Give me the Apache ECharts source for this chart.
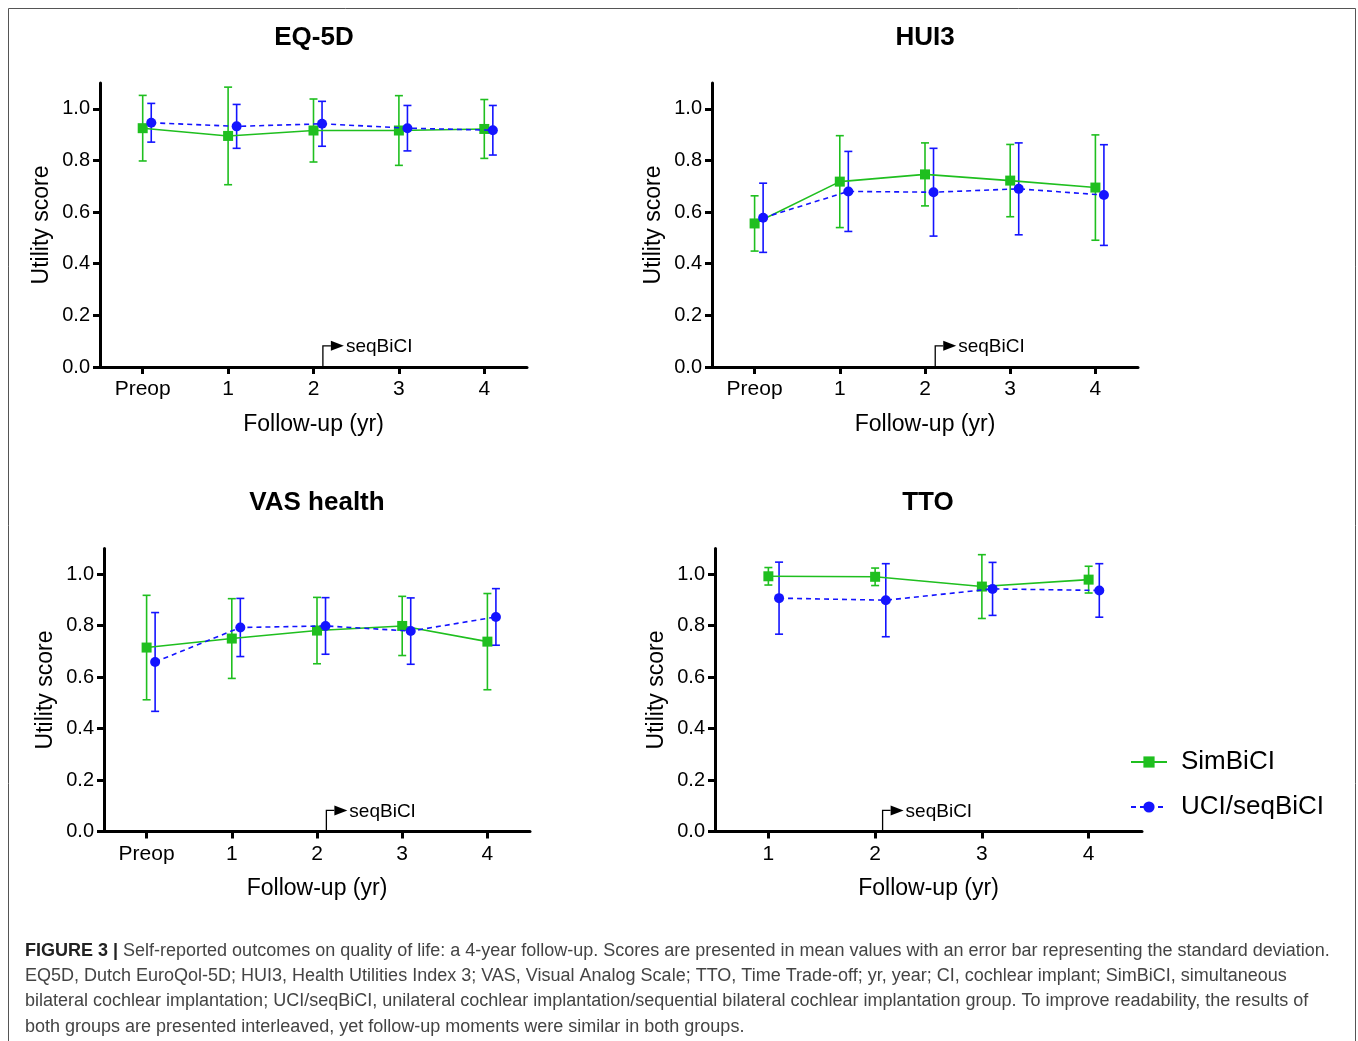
<!DOCTYPE html>
<html>
<head>
<meta charset="utf-8">
<script src="https://cdn.jsdelivr.net/npm/echarts@6/dist/echarts.min.js"></script>
<style>html,body{margin:0;padding:0;background:#fff;}#c{width:1358px;height:1041px;}</style>
</head>
<body>
<div id="c"></div>
<script>
// ---- data ----
const panelTitles = ['EQ-5D', 'HUI3', 'VAS health', 'TTO'];
const followLabels = ['Preop', '1', '2', '3', '4'];
const followPos = [0, 1, 2, 3, 4];
const ttoLabels = ['1', '2', '3', '4'];
const ttoPos = [1, 2, 3, 4];
const yTicks = [0, 0.2, 0.4, 0.6, 0.8, 1.0];
const groupNames = ['SimBiCI', 'UCI/seqBiCI'];

const eq5dSimMean = [0.925, 0.895, 0.916, 0.916, 0.922];
const eq5dSimSD   = [0.127, 0.189, 0.122, 0.135, 0.114];
const eq5dSeqMean = [0.946, 0.932, 0.942, 0.925, 0.917];
const eq5dSeqSD   = [0.075, 0.085, 0.087, 0.088, 0.096];

const hui3SimMean = [0.556, 0.718, 0.746, 0.722, 0.695];
const hui3SimSD   = [0.107, 0.178, 0.122, 0.140, 0.204];
const hui3SeqMean = [0.578, 0.680, 0.677, 0.690, 0.666];
const hui3SeqSD   = [0.134, 0.155, 0.170, 0.178, 0.195];

const vasSimMean = [0.715, 0.750, 0.781, 0.799, 0.738];
const vasSimSD   = [0.203, 0.155, 0.129, 0.115, 0.187];
const vasSeqMean = [0.659, 0.793, 0.799, 0.779, 0.834];
const vasSeqSD   = [0.192, 0.113, 0.110, 0.129, 0.110];

const ttoSimMean = [0.992, 0.990, 0.952, 0.979];
const ttoSimSD   = [0.034, 0.034, 0.124, 0.052];
const ttoSeqMean = [0.907, 0.899, 0.943, 0.937];
const ttoSeqSD   = [0.140, 0.142, 0.103, 0.104];

const seqOffset = 0.1;               // interleave offset of the UCI/seqBiCI group
const seqArrowX = [2.11, 2.12, 2.11, 2.07];
const seqArrowY = 0.082;

const captionLines = [
  'Self-reported outcomes on quality of life: a 4-year follow-up. Scores are presented in mean values with an error bar representing the standard deviation.',
  'EQ5D, Dutch EuroQol-5D; HUI3, Health Utilities Index 3; VAS, Visual Analog Scale; TTO, Time Trade-off; yr, year; CI, cochlear implant; SimBiCI, simultaneous',
  'bilateral cochlear implantation; UCI/seqBiCI, unilateral cochlear implantation/sequential bilateral cochlear implantation group. To improve readability, the results of',
  'both groups are presented interleaved, yet follow-up moments were similar in both groups.'
];

// ---- layout / style ----
const FONT = "'Liberation Sans', Arial, sans-serif";
const GREEN = '#1fbf1f';
const BLUE = '#1414ff';
const grids = [
  {left: 100, top: 83, width: 427, height: 284},
  {left: 712, top: 83, width: 426, height: 284},
  {left: 104, top: 548.5, width: 426, height: 283},
  {left: 715, top: 548.5, width: 427, height: 283}
];
const panels = [
  {pos: followPos, labels: followLabels, sim: [eq5dSimMean, eq5dSimSD], seq: [eq5dSeqMean, eq5dSeqSD], xmin: -0.5, xmax: 4.5},
  {pos: followPos, labels: followLabels, sim: [hui3SimMean, hui3SimSD], seq: [hui3SeqMean, hui3SeqSD], xmin: -0.5, xmax: 4.5},
  {pos: followPos, labels: followLabels, sim: [vasSimMean, vasSimSD], seq: [vasSeqMean, vasSeqSD], xmin: -0.5, xmax: 4.5},
  {pos: ttoPos, labels: ttoLabels, sim: [ttoSimMean, ttoSimSD], seq: [ttoSeqMean, ttoSeqSD], xmin: 0.5, xmax: 4.5}
];

function errRender(color) {
  return function (params, api) {
    const x = api.value(0), lo = api.value(1), hi = api.value(2);
    const pLo = api.coord([x, lo]);
    const pHi = api.coord([x, hi]);
    const cap = 4;
    const st = {stroke: color, lineWidth: 1.6};
    return {
      type: 'group',
      children: [
        {type: 'line', shape: {x1: pLo[0], y1: pLo[1], x2: pHi[0], y2: pHi[1]}, style: st},
        {type: 'line', shape: {x1: pLo[0] - cap, y1: pLo[1], x2: pLo[0] + cap, y2: pLo[1]}, style: st},
        {type: 'line', shape: {x1: pHi[0] - cap, y1: pHi[1], x2: pHi[0] + cap, y2: pHi[1]}, style: st}
      ]
    };
  };
}

function arrowRender(params, api) {
  const x = api.value(0), y = api.value(1);
  const p0 = api.coord([x, 0]);
  const p = api.coord([x, y]);
  return {
    type: 'group',
    children: [
      {type: 'polyline', shape: {points: [[p0[0], p0[1]], [p[0], p[1]], [p[0] + 8, p[1]]]}, style: {stroke: '#000', lineWidth: 1.3, fill: null}},
      {type: 'polygon', shape: {points: [[p[0] + 8, p[1] - 5], [p[0] + 21, p[1]], [p[0] + 8, p[1] + 5]]}, style: {fill: '#000'}},
      {type: 'text', style: {text: 'seqBiCI', x: p[0] + 23, y: p[1] + 1, verticalAlign: 'middle', align: 'left', font: '19px ' + FONT, fill: '#000'}}
    ]
  };
}

const xAxes = [], yAxes = [], series = [];
panels.forEach((pn, i) => {
  xAxes.push({
    type: 'value', gridIndex: i, min: pn.xmin, max: pn.xmax,
    name: 'Follow-up (yr)', nameLocation: 'middle', nameGap: 46,
    nameTextStyle: {fontSize: 23, color: '#000', fontFamily: FONT},
    axisLine: {show: true, onZero: false, lineStyle: {color: '#000', width: 3}},
    axisTick: {show: true, length: 7, lineStyle: {color: '#000', width: 3}, customValues: pn.pos},
    axisLabel: {show: true, margin: 12, fontSize: 21, color: '#000', fontFamily: FONT,
      customValues: pn.pos,
      formatter: v => pn.labels[pn.pos.indexOf(Math.round(v))]},
    splitLine: {show: false}
  });
  yAxes.push({
    type: 'value', gridIndex: i, min: 0, max: 1.1,
    name: 'Utility score', nameLocation: 'middle', nameGap: 47,
    nameTextStyle: {fontSize: 23, color: '#000', fontFamily: FONT},
    axisLine: {show: true, onZero: false, lineStyle: {color: '#000', width: 3}},
    axisTick: {show: true, length: 7, lineStyle: {color: '#000', width: 3}, customValues: yTicks},
    axisLabel: {show: true, margin: 10, fontSize: 20, color: '#000', fontFamily: FONT,
      customValues: yTicks, formatter: v => v.toFixed(1)},
    splitLine: {show: false}
  });
  const simPts = pn.pos.map((x, k) => [x, pn.sim[0][k]]);
  const seqPts = pn.pos.map((x, k) => [x + seqOffset, pn.seq[0][k]]);
  const simErr = pn.pos.map((x, k) => [x, pn.sim[0][k] - pn.sim[1][k], pn.sim[0][k] + pn.sim[1][k]]);
  const seqErr = pn.pos.map((x, k) => [x + seqOffset, pn.seq[0][k] - pn.seq[1][k], pn.seq[0][k] + pn.seq[1][k]]);
  series.push({
    type: 'custom', xAxisIndex: i, yAxisIndex: i, renderItem: errRender(GREEN),
    data: simErr, encode: {x: 0, y: [1, 2]}, z: 2, silent: true
  });
  series.push({
    type: 'custom', xAxisIndex: i, yAxisIndex: i, renderItem: errRender(BLUE),
    data: seqErr, encode: {x: 0, y: [1, 2]}, z: 2, silent: true
  });
  series.push({
    name: groupNames[0], type: 'line', xAxisIndex: i, yAxisIndex: i, data: simPts,
    symbol: 'rect', symbolSize: 10, showAllSymbol: true,
    lineStyle: {color: GREEN, width: 1.6}, itemStyle: {color: GREEN}, z: 3
  });
  series.push({
    name: groupNames[1], type: 'line', xAxisIndex: i, yAxisIndex: i, data: seqPts,
    symbol: 'circle', symbolSize: 10, showAllSymbol: true,
    lineStyle: {color: BLUE, width: 1.6, type: [5, 4]}, itemStyle: {color: BLUE}, z: 4
  });
  series.push({
    type: 'custom', xAxisIndex: i, yAxisIndex: i, renderItem: arrowRender,
    data: [[seqArrowX[i], seqArrowY]], encode: {x: 0, y: 1}, z: 5, silent: true
  });
});

const titleCenters = [[314, 38], [925, 38], [317, 503], [928, 503]];
const graphics = [
  {type: 'rect', shape: {x: 8.5, y: 8.5, width: 1347, height: 1040}, style: {fill: null, stroke: '#555', lineWidth: 1}, silent: true}
];
panelTitles.forEach((t, i) => {
  graphics.push({type: 'text', x: titleCenters[i][0], y: titleCenters[i][1],
    style: {text: t, align: 'center', verticalAlign: 'middle', font: 'bold 26px ' + FONT, fill: '#000'}});
});
const capY = [951, 976, 1001, 1027];
captionLines.forEach((line, i) => {
  graphics.push({type: 'text', x: 25, y: capY[i],
    style: {
      text: i === 0 ? '{b|FIGURE 3 |} ' + line : line,
      align: 'left', verticalAlign: 'middle', font: '18px ' + FONT, fill: '#444',
      rich: {b: {font: 'bold 18px ' + FONT, fill: '#222'}}
    }});
});

const chart = echarts.init(document.getElementById('c'), null, {renderer: 'canvas'});
chart.setOption({
  backgroundColor: '#fff',
  animation: false,
  textStyle: {fontFamily: FONT},
  grid: grids.map(g => Object.assign({containLabel: false}, g)),
  xAxis: xAxes,
  yAxis: yAxes,
  legend: {
    data: groupNames, orient: 'vertical', left: 1125, top: 744,
    itemWidth: 36, itemHeight: 14, itemGap: 19,
    textStyle: {fontSize: 26, color: '#000', fontFamily: FONT, padding: [0, 0, 0, 9]},
    selectedMode: false
  },
  graphic: graphics,
  series: series
});
</script>
</body>
</html>
